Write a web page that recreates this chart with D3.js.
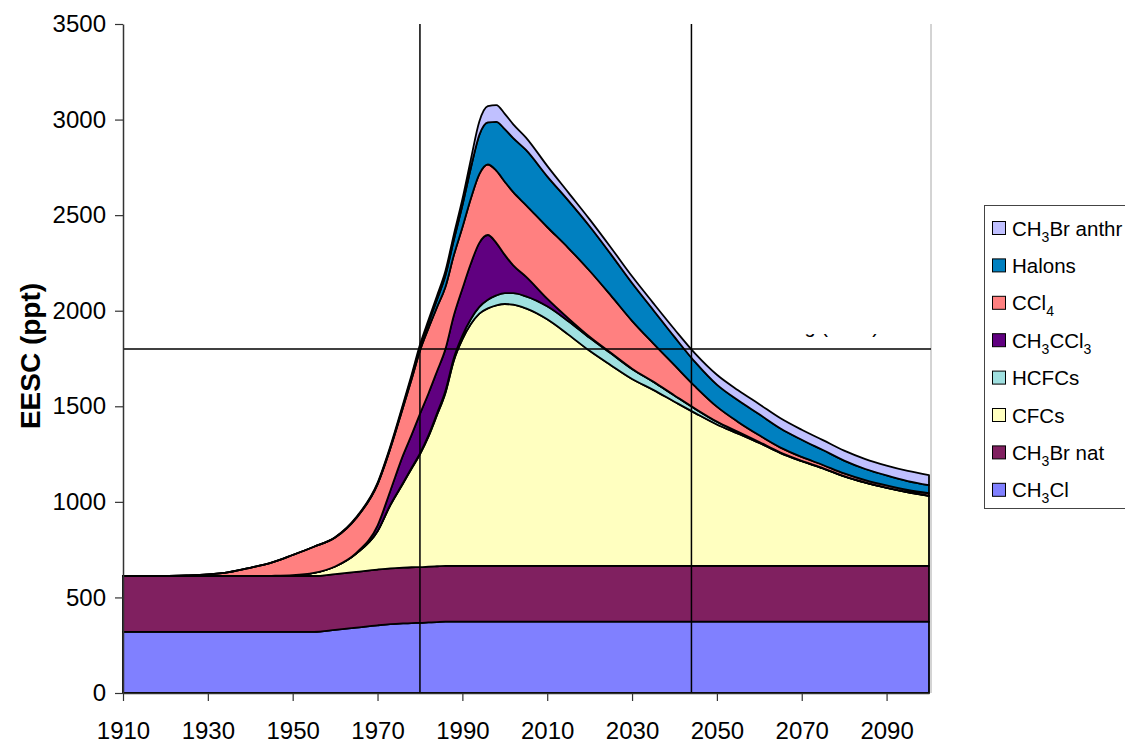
<!DOCTYPE html>
<html>
<head>
<meta charset="utf-8">
<script src="https://cdn.jsdelivr.net/npm/d3@7"></script>
<style>
  body { margin: 0; background: #fff; }
  svg { display: block; font-family: Arial, "Liberation Sans", sans-serif; }
</style>
</head>
<body>
<svg id="chart" width="1125" height="744"></svg>
<script>
// EESC contributions (ppt)
const years = [
  1910, 1915, 1920, 1925, 1930, 1935, 1940, 1945, 1950, 1955,
  1960, 1965, 1970, 1973, 1976, 1978, 1980, 1982, 1984, 1986,
  1988, 1990, 1992, 1994, 1996, 1998, 2000, 2002, 2005, 2010,
  2015, 2020, 2025, 2030, 2035, 2040, 2045, 2050, 2055, 2060,
  2065, 2070, 2075, 2080, 2085, 2090, 2095, 2100
];

const ch3cl = [
  320, 320, 320, 320, 320, 320, 320, 320, 320, 320,
  330, 342, 354, 360, 364, 366, 367, 369, 371, 373,
  373, 373, 373, 373, 373, 373, 373, 373, 373, 373,
  373, 373, 373, 373, 373, 373, 373, 373, 373, 373,
  373, 373, 373, 373, 373, 373, 373, 373
];

const ch3brNat = [
  292, 292, 292, 292, 292, 292, 292, 292, 292, 292,
  292, 292, 292, 292, 292, 292, 292, 292, 292, 292,
  292, 292, 292, 292, 292, 292, 292, 292, 292, 292,
  292, 292, 292, 292, 292, 292, 292, 292, 292, 292,
  292, 292, 292, 292, 292, 292, 292, 292
];

const cfcs = [
  0, 0, 0, 0, 0, 0, 0, 1, 4, 16,
  40, 96, 200, 330, 440, 515, 590, 680, 790, 905,
  1075, 1185, 1265, 1320, 1347, 1363, 1370, 1367, 1347, 1290,
  1210, 1125, 1050, 978, 921, 859, 798, 740, 692, 643,
  590, 548, 510, 468, 435, 408, 385, 366
];

const hcfcs = [
  0, 0, 0, 0, 0, 0, 0, 0, 0, 0,
  0, 0, 1, 2, 3, 4, 5, 7, 9, 11,
  14, 20, 27, 35, 45, 52, 57, 60, 63, 68,
  70, 68, 62, 52, 42, 32, 22, 14, 8, 4,
  2, 1, 1, 1, 1, 1, 1, 1
];

const ch3ccl3 = [
  0, 0, 0, 0, 0, 0, 0, 0, 0, 0,
  0, 3, 29, 73, 144, 172, 206, 219, 220, 218,
  222, 245, 290, 335, 339, 275, 200, 145, 103, 40,
  15, 6, 3, 2, 1, 1, 1, 1, 1, 1,
  1, 1, 1, 1, 1, 1, 1, 1
];

const ccl4 = [
  0, 0, 1, 3, 8, 20, 43, 69, 106, 137,
  151, 183, 216, 221, 250, 290, 330, 340, 335, 325,
  315, 320, 340, 360, 369, 378, 383, 383, 375, 375,
  368, 345, 300, 250, 200, 158, 115, 78, 52, 35,
  26, 20, 16, 14, 12, 11, 10, 12
];

const halons = [
  0, 0, 0, 0, 0, 0, 0, 0, 0, 0,
  0, 0, 2, 4, 8, 12, 18, 28, 40, 60,
  80, 115, 160, 205, 220, 255, 275, 283, 288, 265,
  248, 233, 216, 198, 175, 148, 127, 115, 113, 110,
  100, 90, 78, 67, 58, 52, 47, 42
];

const ch3brAnthr = [
  0, 0, 0, 0, 0, 0, 0, 0, 0, 0,
  2, 4, 6, 8, 10, 12, 14, 16, 20, 24,
  28, 33, 45, 70, 85, 88, 80, 72, 65, 55,
  42, 36, 35, 35, 36, 40, 45, 52, 53, 53,
  53, 52, 52, 52, 52, 52, 53, 53
];

const xTicks = [1910, 1930, 1950, 1970, 1990, 2010, 2030, 2050, 2070, 2090];
const yTicks = [0, 500, 1000, 1500, 2000, 2500, 3000, 3500];
const refYears = [1980, 2044];
const refLevel = 1800;

// stack order bottom -> top; label parts: [text, isSubscript]
const series = [
  { key: "ch3cl", values: ch3cl, color: "#8080ff", label: [["CH", 0], ["3", 1], ["Cl", 0]] },
  { key: "ch3brNat", values: ch3brNat, color: "#802060", label: [["CH", 0], ["3", 1], ["Br nat", 0]] },
  { key: "cfcs", values: cfcs, color: "#ffffc0", label: [["CFCs", 0]] },
  { key: "hcfcs", values: hcfcs, color: "#a0e0e0", label: [["HCFCs", 0]] },
  { key: "ch3ccl3", values: ch3ccl3, color: "#600080", label: [["CH", 0], ["3", 1], ["CCl", 0], ["3", 1]] },
  { key: "ccl4", values: ccl4, color: "#ff8080", label: [["CCl", 0], ["4", 1]] },
  { key: "halons", values: halons, color: "#0080c0", label: [["Halons", 0]] },
  { key: "ch3brAnthr", values: ch3brAnthr, color: "#c0c0ff", label: [["CH", 0], ["3", 1], ["Br anthr", 0]] }
];

const rows = years.map((yr, i) => {
  const r = { year: yr };
  series.forEach((s) => (r[s.key] = s.values[i]));
  return r;
});

const svg = d3.select("#chart");

const x = d3.scaleLinear().domain([1910, 2100]).range([123, 929]);
const y = d3.scaleLinear().domain([0, 3500]).range([693, 24]);

const stacked = d3.stack().keys(series.map((s) => s.key))(rows);

const area = d3
  .area()
  .x((d) => x(d.data.year))
  .y0((d) => y(d[0]))
  .y1((d) => y(d[1]))
  .curve(d3.curveMonotoneX);

// faint right border of the plot area
svg
  .append("line")
  .attr("x1", 931)
  .attr("x2", 931)
  .attr("y1", 24)
  .attr("y2", 693)
  .attr("stroke", "#a8a8a8")
  .attr("stroke-width", 1);

// annotation that is almost entirely hidden in the reference
svg
  .append("clipPath")
  .attr("id", "annoClip")
  .append("rect")
  .attr("x", 700)
  .attr("y", 334)
  .attr("width", 230)
  .attr("height", 12);

svg
  .append("text")
  .attr("clip-path", "url(#annoClip)")
  .attr("x", 879)
  .attr("y", 333)
  .attr("text-anchor", "end")
  .attr("font-size", 20)
  .attr("fill", "#000")
  .text("Recovering (1980)");

svg
  .append("g")
  .attr("class", "areas")
  .selectAll("path")
  .data(stacked)
  .join("path")
  .attr("d", area)
  .attr("fill", (d, i) => series[i].color)
  .attr("stroke", "#000")
  .attr("stroke-width", 1.8)
  .attr("stroke-linejoin", "round");

// reference lines
svg
  .append("g")
  .selectAll("line")
  .data(refYears)
  .join("line")
  .attr("x1", (d) => x(d))
  .attr("x2", (d) => x(d))
  .attr("y1", y(3500))
  .attr("y2", y(0))
  .attr("stroke", "#000")
  .attr("stroke-width", 1.5);

svg
  .append("line")
  .attr("x1", x(1910))
  .attr("x2", 931)
  .attr("y1", y(refLevel))
  .attr("y2", y(refLevel))
  .attr("stroke", "#000")
  .attr("stroke-width", 1.5);

// axes
const yAxis = svg
  .append("g")
  .attr("transform", `translate(${x(1910)},0)`)
  .call(
    d3.axisLeft(y).tickValues(yTicks).tickFormat(d3.format("d")).tickSize(8).tickSizeOuter(0).tickPadding(9)
  );

const xAxis = svg
  .append("g")
  .attr("transform", `translate(0,${y(0)})`)
  .call(
    d3.axisBottom(x).tickValues(xTicks).tickFormat(d3.format("d")).tickSize(8).tickSizeOuter(0).tickPadding(21)
  );

[yAxis, xAxis].forEach((g) => {
  g.select(".domain").attr("stroke", "#333").attr("stroke-width", 1.5);
  g.selectAll(".tick line").attr("stroke", "#333").attr("stroke-width", 1.2);
  g.selectAll(".tick text")
    .attr("font-size", 24)
    .attr("font-family", "Arial, 'Liberation Sans', sans-serif")
    .attr("fill", "#000");
});

svg
  .append("text")
  .attr("transform", "translate(40,356) rotate(-90)")
  .attr("text-anchor", "middle")
  .attr("font-size", 28)
  .attr("font-weight", "bold")
  .text("EESC (ppt)");

// legend
const legend = svg.append("g").attr("class", "legend");

legend
  .append("rect")
  .attr("x", 984.5)
  .attr("y", 205.5)
  .attr("width", 170)
  .attr("height", 303)
  .attr("fill", "#fff")
  .attr("stroke", "#444")
  .attr("stroke-width", 1);

const legendItems = series.slice().reverse();

const item = legend
  .selectAll(".item")
  .data(legendItems)
  .join("g")
  .attr("class", "item")
  .attr("transform", (d, i) => `translate(0,${228 + i * 37.4})`);

item
  .append("rect")
  .attr("x", 992.5)
  .attr("y", -6.5)
  .attr("width", 13)
  .attr("height", 13)
  .attr("fill", (d) => d.color)
  .attr("stroke", "#000")
  .attr("stroke-width", 1);

item.each(function (d) {
  const t = d3
    .select(this)
    .append("text")
    .attr("x", 1012)
    .attr("y", 7.5)
    .attr("font-size", 20.5)
    .attr("fill", "#000");
  let shifted = false;
  d.label.forEach(([txt, sub]) => {
    const ts = t.append("tspan").text(txt);
    if (sub && !shifted) {
      ts.attr("font-size", 14).attr("dy", 6);
      shifted = true;
    } else if (!sub && shifted) {
      ts.attr("dy", -6);
      shifted = false;
    } else if (sub) {
      ts.attr("font-size", 14);
    }
  });
});
</script>
</body>
</html>
